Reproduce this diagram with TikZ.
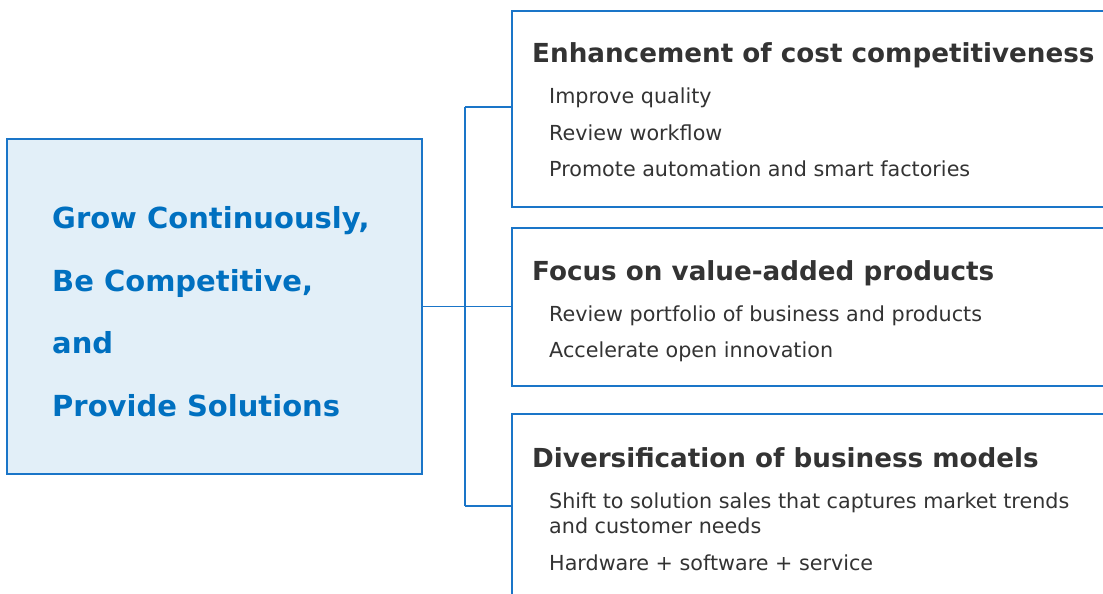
\documentclass[tikz,border=0pt]{standalone}
\usepackage{fontspec}
\setmainfont{DejaVu Sans}
\definecolor{bordblue}{HTML}{1A75C8}
\definecolor{fillblue}{HTML}{E2EFF8}
\definecolor{mainblue}{HTML}{0070C0}
\definecolor{textgrey}{HTML}{333333}
\tikzset{
  bx/.style={draw=bordblue, line width=1.6pt, anchor=north west, inner sep=0pt},
  conn/.style={draw=bordblue, line width=1.4pt},
  mainline/.style={anchor=base west, inner sep=0pt, text=mainblue, font=\fontsize{29}{34}\selectfont\bfseries},
  head/.style={anchor=base west, inner sep=0pt, text=textgrey, font=\fontsize{26.2}{31}\selectfont\bfseries},
  item/.style={anchor=base west, inner sep=0pt, text=textgrey, font=\fontsize{20.7}{25}\selectfont},
}
\begin{document}
\begin{tikzpicture}[x=1pt,y=-1pt]
\useasboundingbox (0,0) rectangle (1103,594);
\clip (0,0) rectangle (1103,594);
% main box
\node[bx, fill=fillblue, minimum width=415pt, minimum height=335pt] (main) at (6,138) {};
\node[mainline] (m1) at (52,228) {Grow Continuously,};
\node[mainline] (m2) at (52,291) {Be Competitive,};
\node[mainline] (m3) at (52,353) {and};
\node[mainline] (m4) at (52,416) {Provide Solutions};
% right boxes
\node[bx, minimum width=610pt, minimum height=196pt] (b1) at (511,10) {};
\node[bx, minimum width=610pt, minimum height=158pt] (b2) at (511,227) {};
\node[bx, minimum width=610pt, minimum height=200pt] (b3) at (511,413) {};
% connectors
\coordinate (jt) at (465,107);
\coordinate (jb) at (465,506);
\draw[conn] (main.east) -- (main.east -| b2.west);
\draw[conn] (jt) -- (jb);
\draw[conn] (jt) -- (jt -| b1.west);
\draw[conn] (jb) -- (jb -| b3.west);
% box 1 text
\node[head] (h1) at (532,63) {Enhancement of cost competitiveness};
\node[item] (i11) at (549,103) {Improve quality};
\node[item] (i12) at (549,140) {Review workflow};
\node[item] (i13) at (549,176) {Promote automation and smart factories};
% box 2 text
\node[head] (h2) at (532,280) {Focus on value-added products};
\node[item] (i21) at (549,321) {Review portfolio of business and products};
\node[item] (i22) at (549,357) {Accelerate open innovation};
% box 3 text
\node[head] (h3) at (532,467) {Diversification of business models};
\node[item] (i31) at (549,508) {Shift to solution sales that captures market trends};
\node[item] (i32) at (549,533) {and customer needs};
\node[item] (i33) at (549,570) {Hardware + software + service};
\end{tikzpicture}
\end{document}
